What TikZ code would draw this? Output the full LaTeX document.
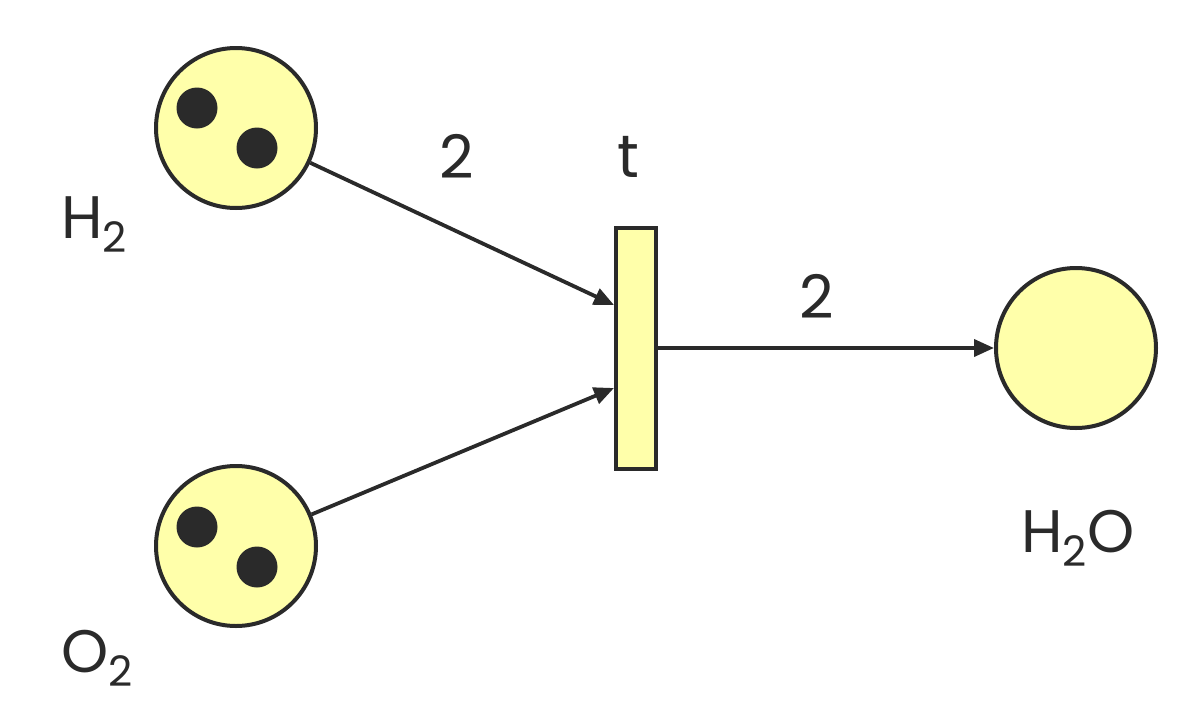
\documentclass[tikz,border=0pt]{standalone}
\usepackage{fontspec}
\setmainfont{Poppins}
\usetikzlibrary{arrows.meta}
\definecolor{ink}{HTML}{2A2A2A}
\definecolor{pfill}{HTML}{FFFFAA}
\newcommand\lowsub[1]{\raisebox{-7pt}{\fontsize{21}{21}\selectfont #1}}
\begin{document}
\begin{tikzpicture}[x=0.5pt,y=-0.5pt,
  place/.style={circle,draw=ink,fill=pfill,line width=2pt,minimum size=80pt,inner sep=0pt},
  token/.style={circle,fill=ink,minimum size=20.5pt,inner sep=0pt},
  trans/.style={rectangle,draw=ink,fill=pfill,line width=2pt,minimum width=20pt,minimum height=120.5pt,inner sep=0pt},
  arc/.style={draw=ink,line width=1.9pt,-{Triangle[length=10pt,width=8.5pt]}},
  lbl/.style={text=ink,font=\fontsize{30}{30}\selectfont,inner sep=0pt}]
\useasboundingbox (0,0) rectangle (1196,724);
\node[place] (h2) at (236,128) {};
\node[token] (h2a) at (197,108) {};
\node[token] (h2b) at (257,148) {};
\node[place] (o2) at (236,546) {};
\node[token] (o2a) at (197,527) {};
\node[token] (o2b) at (257,567) {};
\node[trans] (t) at (636,348) {};
\node[place] (h2o) at (1076,348) {};
\coordinate (tin1) at ([yshift=21.5pt]t.west);
\coordinate (tin2) at ([yshift=-20pt]t.west);
\draw[arc] (h2) -- (tin1);
\draw[arc] (o2) -- (tin2);
\draw[arc] (t.east) -- (h2o);
\node[lbl,anchor=base] (w1) at (457,178) {2};
\node[lbl,anchor=base] (tl) at (628,177) {t};
\node[lbl,anchor=base] (w2) at (817,318) {2};
\node[lbl,anchor=base west] (lh2) at (61,238) {H\lowsub{2}};
\node[lbl,anchor=base west] (lo2) at (61,672) {O\lowsub{2}};
\node[lbl,anchor=base west] (lh2o) at (1021,552) {H\lowsub{2}O};
\end{tikzpicture}
\end{document}
